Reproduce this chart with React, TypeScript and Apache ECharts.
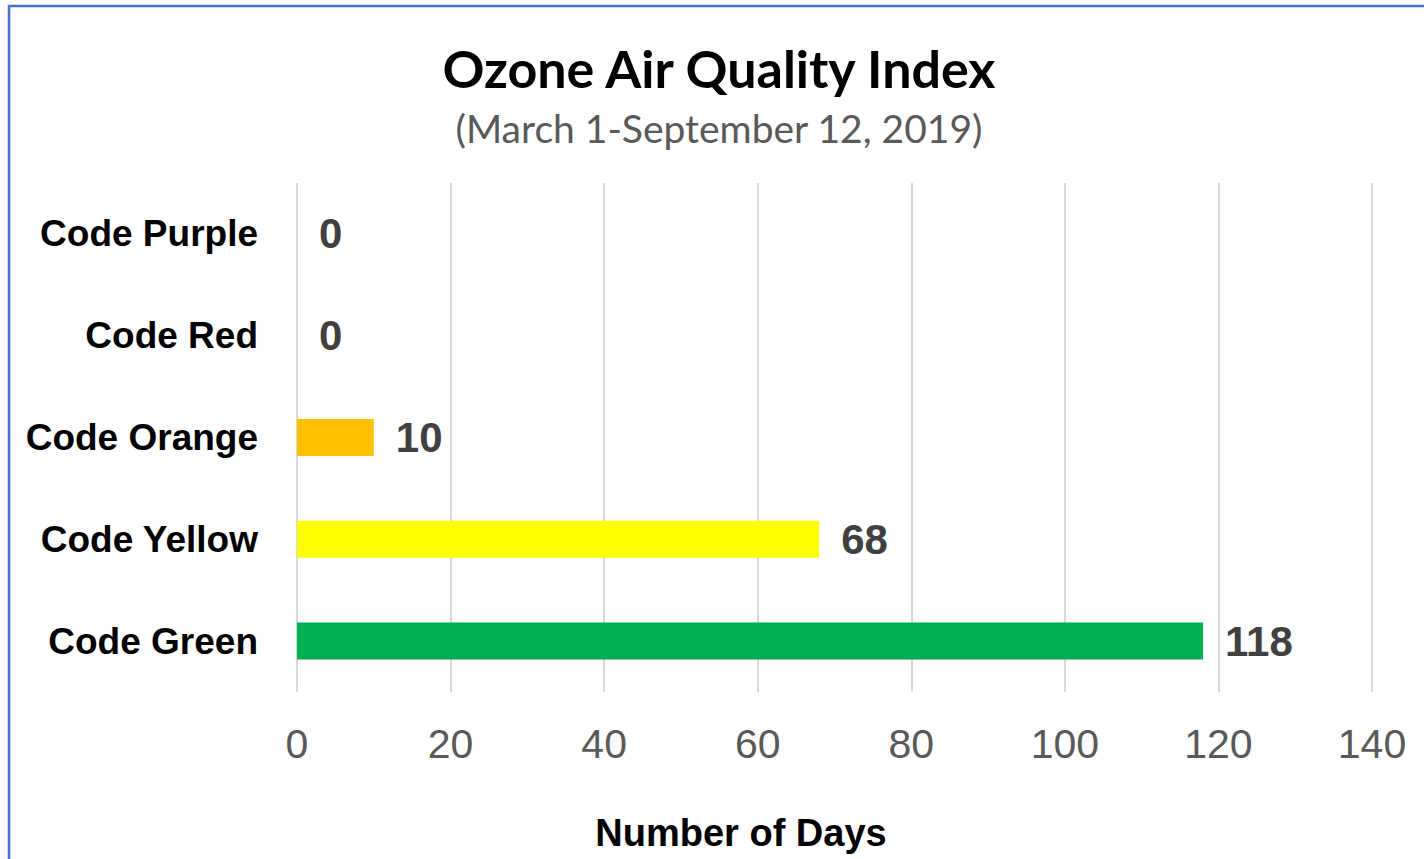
import React, { useEffect, useRef } from "react";
import * as echarts from "echarts";

const categories = ["Code Green", "Code Yellow", "Code Orange", "Code Red", "Code Purple"];
const values = [118, 68, 10, 0, 0];
const barColors = ["#00B050", "#FFFF00", "#FFC000", "#FF0000", "#7030A0"];
const xTicks = [0, 20, 40, 60, 80, 100, 120, 140];

const titleText = "Ozone Air Quality Index";
const subtitleText = "(March 1-September 12, 2019)";
const axisTitle = "Number of Days";

export default function App() {
  const ref = useRef<HTMLDivElement>(null);
  useEffect(() => {
    document.body.style.margin = "0";
    const chart = echarts.init(ref.current!, null, { renderer: "svg" });
    chart.setOption({
      animation: false,
      backgroundColor: "#ffffff",
      grid: { left: 297, right: 52, top: 183, bottom: 167, containLabel: false },
      xAxis: {
        type: "value",
        min: xTicks[0],
        max: xTicks[xTicks.length - 1],
        interval: 20,
        axisLine: { show: false },
        axisTick: { show: false },
        splitLine: { show: true, lineStyle: { color: "#d9d9d9", width: 2 } },
        axisLabel: {
          color: "#595959",
          fontFamily: "Liberation Sans, Arial, sans-serif",
          fontSize: 41,
          margin: 31,
        },
      },
      yAxis: {
        type: "category",
        data: categories,
        axisLine: { show: false },
        axisTick: { show: false },
        axisLabel: {
          color: "#000000",
          fontFamily: "Liberation Sans Narrow, Liberation Sans, Arial, sans-serif",
          fontWeight: "bold",
          fontSize: 37,
          margin: 39,
        },
      },
      series: [
        {
          type: "bar",
          data: values.map((v, i) => ({ value: v, itemStyle: { color: barColors[i] } })),
          barWidth: 37,
          label: {
            show: true,
            position: "right",
            distance: 22,
            color: "#404040",
            fontFamily: "Liberation Sans, Arial, sans-serif",
            fontWeight: "bold",
            fontSize: 42,
          },
        },
      ],
      graphic: [
        {
          type: "rect",
          shape: { x: 9, y: 6, width: 1500, height: 1000 },
          style: { fill: "none", stroke: "#4472C4", lineWidth: 2.5 },
          silent: true,
        },
        {
          type: "text",
          x: 719,
          y: 68,
          style: {
            text: titleText,
            textAlign: "center",
            textVerticalAlign: "middle",
            fill: "#000000",
            font: "bold 52px Lato, 'Open Sans', sans-serif",
          },
        },
        {
          type: "text",
          x: 719,
          y: 128,
          style: {
            text: subtitleText,
            textAlign: "center",
            textVerticalAlign: "middle",
            fill: "#595959",
            font: "39px Lato, 'Open Sans', sans-serif",
          },
        },
        {
          type: "text",
          x: 741,
          y: 833,
          style: {
            text: axisTitle,
            textAlign: "center",
            textVerticalAlign: "middle",
            fill: "#000000",
            font: "bold 38px 'Liberation Sans Narrow', 'Liberation Sans', Arial, sans-serif",
          },
        },
      ],
    });
    return () => chart.dispose();
  }, []);
  return <div ref={ref} style={{ width: 1424, height: 859 }} />;
}
